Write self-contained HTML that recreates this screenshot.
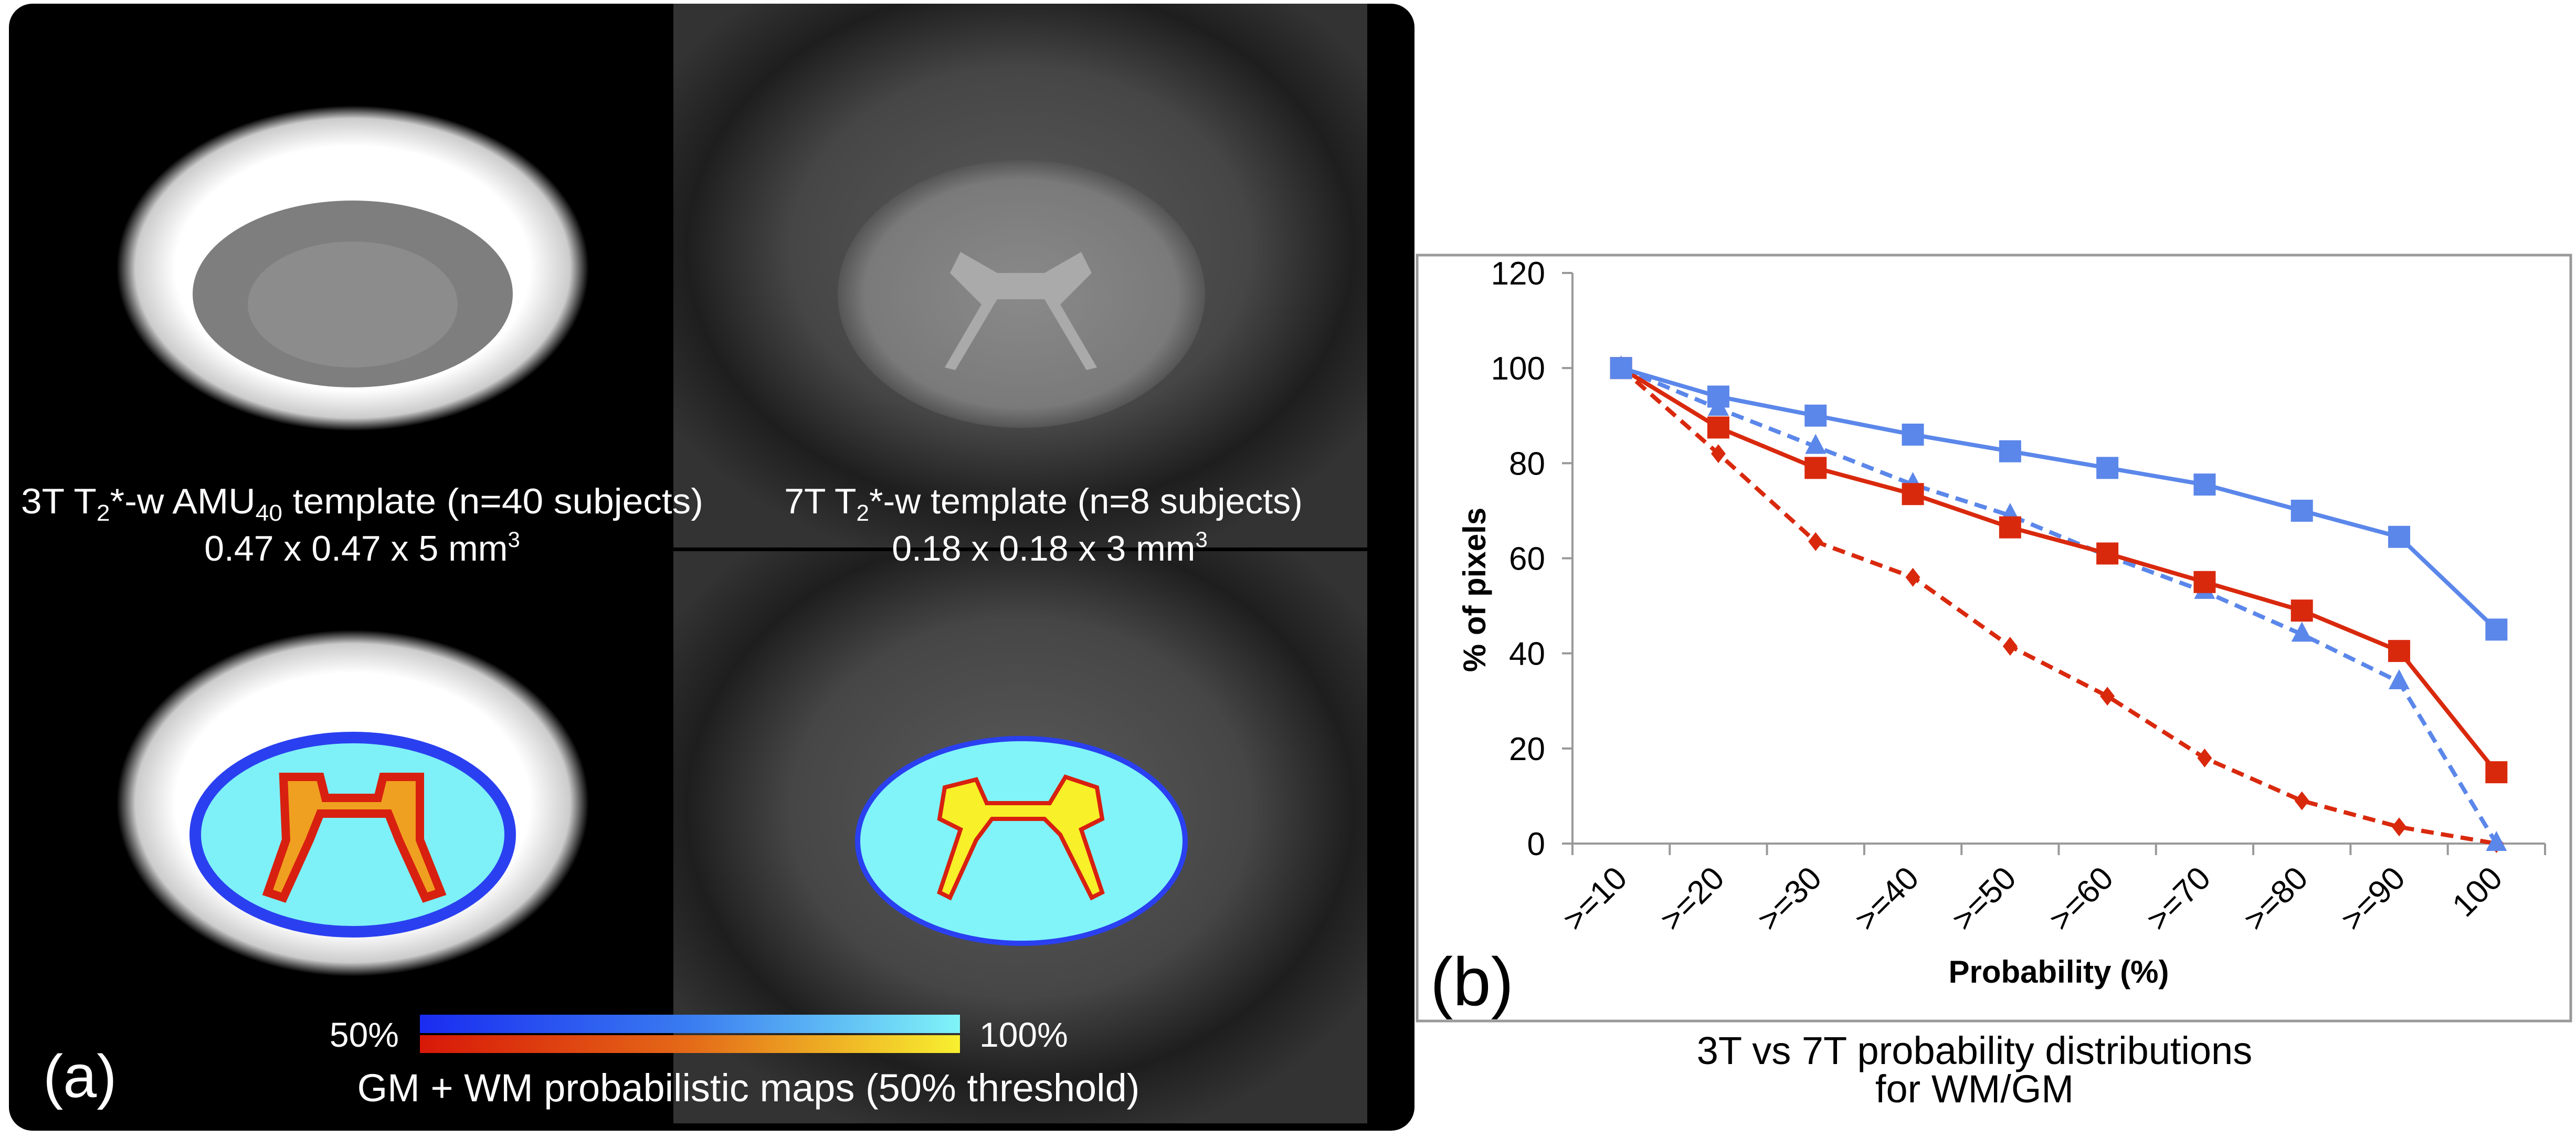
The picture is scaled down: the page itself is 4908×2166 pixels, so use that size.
<!DOCTYPE html>
<html><head><meta charset="utf-8"><style>
html,body{margin:0;padding:0;background:#fff;}
svg{display:block;}
text{font-family:"Liberation Sans",sans-serif;}
</style></head><body>
<svg id="fig" width="4908" height="2166" viewBox="0 0 4908 2166">
<defs>
<radialGradient id="g7t" cx="50%" cy="45%" r="60%"><stop offset="0" stop-color="#5a5a5a"/><stop offset="0.55" stop-color="#464646"/><stop offset="0.8" stop-color="#1e1e1e"/><stop offset="1" stop-color="#333"/></radialGradient>
<radialGradient id="cord7" cx="50%" cy="50%" r="50%"><stop offset="0" stop-color="#8a8a8a"/><stop offset="0.85" stop-color="#7a7a7a"/><stop offset="1" stop-color="#555"/></radialGradient>
<radialGradient id="white3" cx="50%" cy="50%" r="50%"><stop offset="0.75" stop-color="#fff"/><stop offset="0.92" stop-color="#ccc"/><stop offset="1" stop-color="#000"/></radialGradient>
<linearGradient id="cbBlue" x1="0" x2="1"><stop offset="0" stop-color="#1a2cf0"/><stop offset="0.5" stop-color="#3a7cf0"/><stop offset="1" stop-color="#80f4f8"/></linearGradient>
<linearGradient id="cbRed" x1="0" x2="1"><stop offset="0" stop-color="#d81808"/><stop offset="0.5" stop-color="#e46a18"/><stop offset="1" stop-color="#f8f030"/></linearGradient>
</defs>

<g>
<rect x="17" y="7" width="2678" height="2147" rx="45" fill="#000"/>
<rect x="1283" y="7" width="1322" height="1036" fill="url(#g7t)"/>
<rect x="1283" y="1050" width="1322" height="1090" fill="url(#g7t)"/>
<ellipse cx="672" cy="511" rx="450" ry="310" fill="url(#white3)"/>
<ellipse cx="672" cy="560" rx="305" ry="178" fill="#7e7e7e"/>
<ellipse cx="672" cy="580" rx="200" ry="120" fill="#8c8c8c"/>
<ellipse cx="1946" cy="560" rx="350" ry="255" fill="url(#cord7)"/>
<path d="M1830 480 L1900 520 L1990 520 L2060 480 L2080 520 L2020 580 L2090 700 L2070 705 L1990 570 L1900 570 L1820 705 L1800 700 L1870 580 L1810 520 Z" fill="#aaa"/>
<ellipse cx="672" cy="1530" rx="450" ry="330" fill="url(#white3)"/>
<ellipse cx="672" cy="1590" rx="300" ry="185" fill="#7ef0f8" stroke="#2a40f0" stroke-width="22"/>
<path d="M540 1480 L610 1480 L620 1520 L720 1520 L730 1480 L800 1480 L800 1600 L840 1700 L810 1710 L760 1600 L740 1550 L610 1550 L590 1600 L540 1710 L510 1700 L545 1600 Z" fill="#f0a020" stroke="#d82010" stroke-width="16"/>
<ellipse cx="1946" cy="1602" rx="312" ry="195" fill="#80f4f8" stroke="#2a40f0" stroke-width="10"/>
<path d="M1800 1500 L1860 1485 L1880 1530 L2000 1530 L2030 1480 L2090 1500 L2100 1560 L2060 1580 L2100 1700 L2080 1710 L2020 1590 L1990 1560 L1890 1560 L1860 1600 L1810 1710 L1790 1700 L1830 1580 L1790 1560 Z" fill="#f8f028" stroke="#d82010" stroke-width="8"/>

<text x="690" y="978" font-size="68" fill="#fff" text-anchor="middle" textLength="1300" lengthAdjust="spacingAndGlyphs">3T T<tspan font-size="44" dy="14">2</tspan><tspan dy="-14">*-w AMU</tspan><tspan font-size="44" dy="14">40</tspan><tspan dy="-14"> template (n=40 subjects)</tspan></text>
<text x="690" y="1068" font-size="68" fill="#fff" text-anchor="middle">0.47 x 0.47 x 5 mm<tspan font-size="42" dy="-26">3</tspan></text>
<text x="1988" y="978" font-size="68" fill="#fff" text-anchor="middle">7T T<tspan font-size="44" dy="14">2</tspan><tspan dy="-14">*-w template (n=8 subjects)</tspan></text>
<text x="2000" y="1068" font-size="68" fill="#fff" text-anchor="middle">0.18 x 0.18 x 3 mm<tspan font-size="42" dy="-26">3</tspan></text>

<rect x="800" y="1933" width="1029" height="35" fill="url(#cbBlue)"/>
<rect x="800" y="1972" width="1029" height="34" fill="url(#cbRed)"/>
<text x="760" y="1994" font-size="66" fill="#fff" text-anchor="end">50%</text>
<text x="1866" y="1994" font-size="66" fill="#fff">100%</text>
<text x="1426" y="2098" font-size="74" fill="#fff" text-anchor="middle">GM + WM probabilistic maps (50% threshold)</text>
<text x="82" y="2090" font-size="115" fill="#fff">(a)</text>
</g>

<g>
<rect x="2700" y="486" width="2198" height="1459" fill="#fff" stroke="#999" stroke-width="5"/>
<g id="chart"></g>
<text x="2725" y="1915" font-size="130" fill="#000">(b)</text>
<text x="3762" y="2027" font-size="74" fill="#000" text-anchor="middle">3T vs 7T probability distributions</text>
<text x="3762" y="2100" font-size="74" fill="#000" text-anchor="middle">for WM/GM</text>
</g>
</svg>
<script>
const categories = [">=10", ">=20", ">=30", ">=40", ">=50", ">=60", ">=70", ">=80", ">=90", "100"];
const yTicks = [0, 20, 40, 60, 80, 100, 120];
const wm3T = [100, 94, 90, 86, 82.5, 79, 75.5, 70, 64.5, 45];
const gm3T = [100, 87.5, 79, 73.5, 66.5, 61, 55, 49, 40.5, 15];
const wm7T = [100, 91.5, 83.5, 75.5, 69, 60.5, 53, 44, 34, 0];
const gm7T = [100, 82, 63.5, 56, 41.5, 31, 18, 9, 3.5, 0];

const NS = "http://www.w3.org/2000/svg";
const g = document.getElementById("chart");
const X0 = 2996, X1 = 4849, Y0 = 1607, Y1 = 520, YMAX = 120;
const band = (X1 - X0) / categories.length;
const xs = i => X0 + band * (i + 0.5);
const ys = v => Y0 - (v / YMAX) * (Y0 - Y1);
function mk(tag, attrs, parent) {
  const e = document.createElementNS(NS, tag);
  for (const k in attrs) e.setAttribute(k, attrs[k]);
  (parent || g).appendChild(e);
  return e;
}
let yAxis = mk("line", {x1: X0, y1: Y1, x2: X0, y2: Y0 + 20, stroke: "#999", "stroke-width": 4});


let xAxis = mk("line", {x1: X0 - 20, y1: Y0, x2: X1, y2: Y0, stroke: "#999", "stroke-width": 4});


yTicks.forEach(v => {
  const t = mk("line", {x1: X0 - 20, y1: ys(v), x2: X0, y2: ys(v), stroke: "#999", "stroke-width": 4});
  
  
  const l = mk("text", {x: X0 - 52, y: ys(v) + 22, "font-size": 62, "text-anchor": "end", fill: "#000"});
  l.textContent = v;
  
  
});
for (let i = 0; i <= categories.length; i++) {
  const x = X0 + band * i;
  const t = mk("line", {x1: x, y1: Y0, x2: x, y2: Y0 + 22, stroke: "#999", "stroke-width": 4});
  
  
}
categories.forEach((c, i) => {
  const x = xs(i) + 15, y = Y0 + 70;
  const l = mk("text", {x: x, y: y, "font-size": 62, "text-anchor": "end", fill: "#000", transform: `rotate(-45 ${x} ${y})`});
  l.textContent = c;
  
  
});
const yt = mk("text", {x: 0, y: 0, "font-size": 60, "font-weight": "bold", "text-anchor": "middle", fill: "#000", transform: `translate(2830 ${(Y0 + Y1) / 2 + 60}) rotate(-90)`});
yt.textContent = "% of pixels";


const xt = mk("text", {x: (X0 + X1) / 2, y: 1872, "font-size": 60, "font-weight": "bold", "text-anchor": "middle", fill: "#000"});
xt.textContent = "Probability (%)";



function series(vals, color, dashed, marker, name) {
  const sg = mk("g", {});
  
  
  const pts = vals.map((v, i) => xs(i) + "," + ys(v)).join(" ");
  const pl = mk("polyline", {points: pts, fill: "none", stroke: color, "stroke-width": 8, "stroke-dasharray": dashed ? "24 14" : "none"}, sg);
  
  
  vals.forEach((v, i) => {
    const x = xs(i), y = ys(v);
    let m;
    if (marker === "square") m = mk("rect", {x: x - 21, y: y - 21, width: 42, height: 42, fill: color}, sg);
    else if (marker === "triangle") m = mk("polygon", {points: `${x},${y - 24} ${x + 20},${y + 14} ${x - 20},${y + 14}`, fill: color}, sg);
    else m = mk("polygon", {points: `${x},${y - 18} ${x + 14},${y} ${x},${y + 18} ${x - 14},${y}`, fill: color}, sg);
    
    
  });
}
series(gm7T, "#d9290d", true, "diamond", "series-gm-7t");
series(wm7T, "#5b87ea", true, "triangle", "series-wm-7t");
series(gm3T, "#d9290d", false, "square", "series-gm-3t");
series(wm3T, "#5b87ea", false, "square", "series-wm-3t");
</script>
</body></html>
